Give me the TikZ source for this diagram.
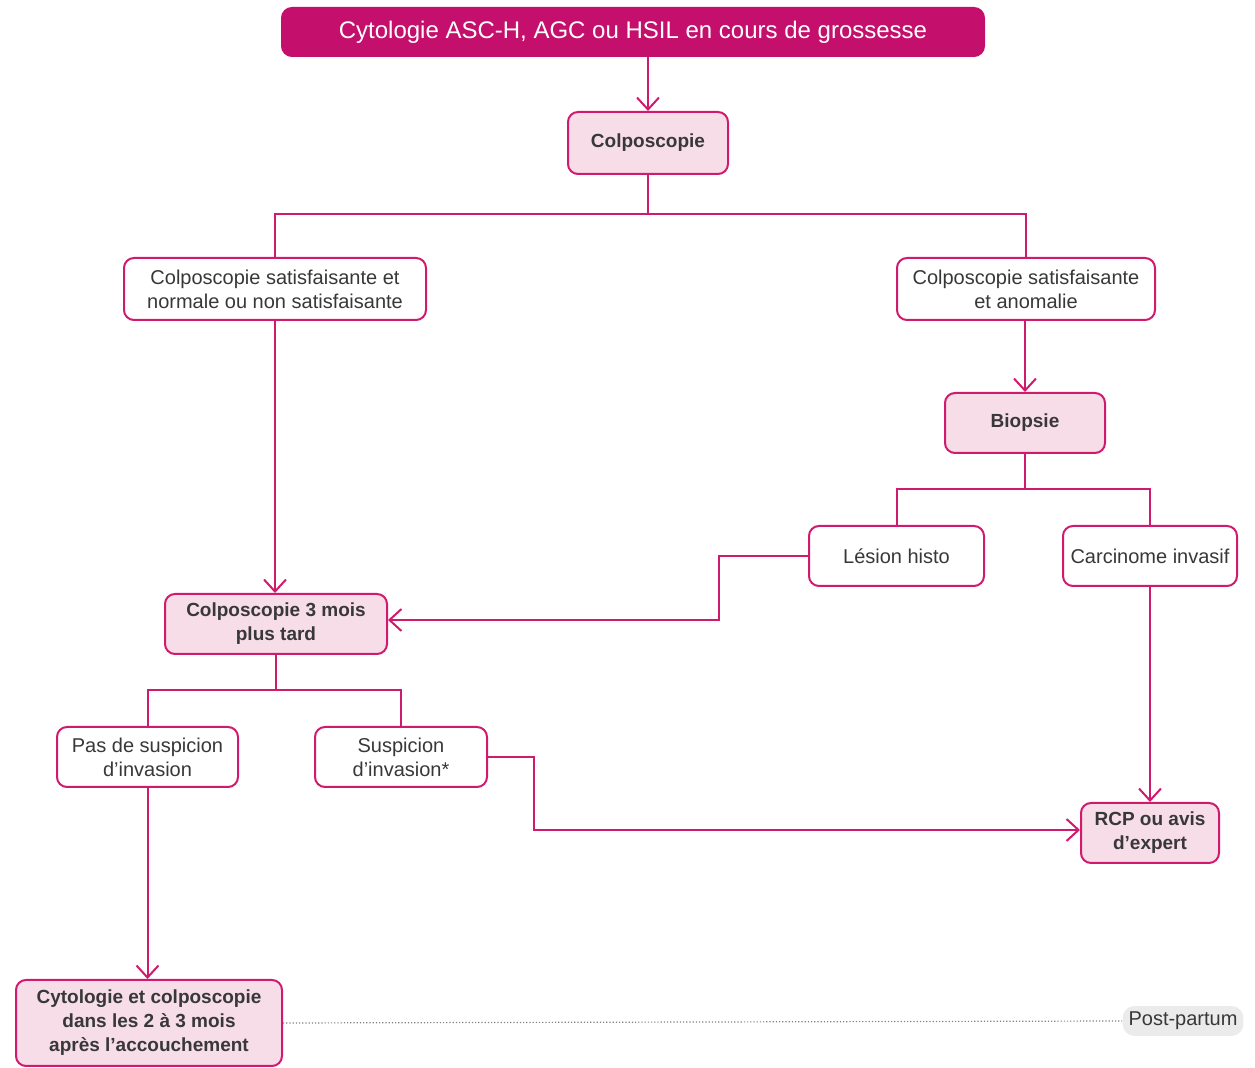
\documentclass[tikz,border=0pt]{standalone}
\usepackage{fontspec}
\setmainfont{Liberation Sans}
\usetikzlibrary{arrows.meta}
\definecolor{rosedark}{HTML}{D01A6E}
\definecolor{rosetitle}{HTML}{C4106C}
\definecolor{rosepale}{HTML}{F6DDE8}
\definecolor{textgray}{HTML}{383838}
\begin{document}
\begin{tikzpicture}[x=0.5pt,y=-0.5pt,
        line/.style={draw=rosedark,line width=1pt},
        arr/.style={line,-{Straight Barb[length=6pt,width=11pt]}},
        plainbox/.style={draw=rosedark,line width=1pt,fill=white,rounded corners=5pt,
            align=center,text=textgray,inner sep=0pt,font=\fontsize{10}{12}\selectfont},
        pinkbox/.style={plainbox,fill=rosepale,font=\fontsize{9.5}{12}\selectfont\bfseries},
        titlebox/.style={plainbox,draw=rosetitle,fill=rosetitle,text=white,font=\fontsize{12}{14}\selectfont}]
                \useasboundingbox (0,0) rectangle (1255,1068);

                % boxes
                \node[titlebox,minimum width=351pt,minimum height=24pt] (title) at (633,32) {Cytologie ASC-H, AGC ou HSIL en cours de grossesse};
                \node[pinkbox,minimum width=80pt,minimum height=31pt] (colpo) at (648,143) {Colposcopie};
                \node[plainbox,minimum width=151pt,minimum height=31pt] (normale) at (275,289) {Colposcopie satisfaisante et\\normale ou non satisfaisante};
                \node[plainbox,minimum width=129pt,minimum height=31pt] (anomalie) at (1026,289) {Colposcopie satisfaisante\\et anomalie};
                \node[pinkbox,minimum width=80pt,minimum height=30pt] (biopsie) at (1025,423) {Biopsie};
                \node[plainbox,minimum width=87.5pt,minimum height=30pt] (lesion) at (896.5,556) {Lésion histo};
                \node[plainbox,minimum width=87pt,minimum height=30pt] (carcinome) at (1150,556) {Carcinome invasif};
                \node[pinkbox,minimum width=111pt,minimum height=30pt] (troismois) at (276,624) {Colposcopie 3 mois\\plus tard};
                \node[plainbox,minimum width=90.5pt,minimum height=30pt] (pasinv) at (147.5,757) {Pas de suspicion\\d'invasion};
                \node[plainbox,minimum width=86pt,minimum height=30pt] (suspinv) at (401,757) {Suspicion\\d'invasion*};
                \node[pinkbox,minimum width=69pt,minimum height=30pt] (rcp) at (1150,833) {RCP ou avis\\d'expert};
                \node[pinkbox,minimum width=133pt,minimum height=43pt] (cytopost) at (149,1023) {Cytologie et colposcopie\\dans les 2 à 3 mois\\après l'accouchement};
                \node[fill=black!8,rounded corners=6pt,text=textgray,inner sep=3pt,font=\fontsize{10}{12}\selectfont] (postpartum) at (1183,1021) {Post-partum};

                % branch points
                \coordinate (fork1) at (648,214);
                \coordinate (fork2) at (1025,489);
                \coordinate (fork3) at (276,690);

                % connectors
                \draw[arr] (title.south -| colpo.north) -- (colpo.north);
                \draw[line] (colpo.south) -- (fork1);
                \draw[line] (normale.north) |- (fork1) -| (anomalie.north);
                \draw[arr] (anomalie.south -| biopsie.north) -- (biopsie.north);
                \draw[line] (biopsie.south) -- (fork2);
                \draw[line] (lesion.north) |- (fork2) -| (carcinome.north);
                \draw[arr] (lesion.west) -- ++(-89,0) |- ([yshift=2pt]troismois.east);
                \draw[arr] (normale.south) -- (normale.south |- troismois.north);
                \draw[line] (troismois.south) -- (fork3);
                \draw[line] (pasinv.north) |- (fork3) -| (suspinv.north);
                \draw[arr] (suspinv.east) -- ++(46,0) |- ([yshift=1.5pt]rcp.west);
                \draw[arr] (carcinome.south) -- (rcp.north);
                \draw[arr] (pasinv.south) -- (pasinv.south |- cytopost.north);
                \draw[densely dotted,gray,line width=0.6pt] (cytopost.east) -- (postpartum.west);
            \end{tikzpicture}
\end{document}
